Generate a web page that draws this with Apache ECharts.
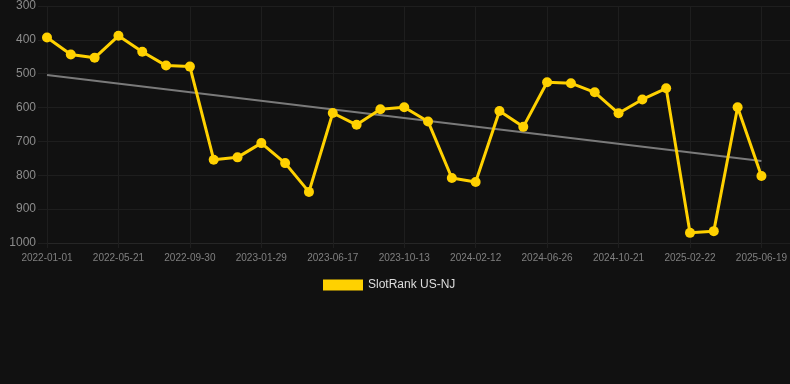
<!DOCTYPE html>
<html>
<head>
<meta charset="utf-8">
<style>
  html, body { margin: 0; padding: 0; background: #111111; }
  #chart { width: 790px; height: 384px; }
</style>
<script src="https://cdn.jsdelivr.net/npm/echarts@6/dist/echarts.min.js"></script>
</head>
<body>
<div id="chart"></div>
<script>
const categories = [
  '2022-01-01','2022-02-16','2022-04-03','2022-05-21','2022-07-04','2022-08-17',
  '2022-09-30','2022-11-09','2022-12-19','2023-01-29','2023-03-16','2023-05-01',
  '2023-06-17','2023-07-26','2023-09-03','2023-10-13','2023-11-22','2024-01-02',
  '2024-02-12','2024-03-27','2024-05-11','2024-06-26','2024-08-04','2024-09-12',
  '2024-10-21','2024-12-01','2025-01-11','2025-02-22','2025-04-01','2025-05-10',
  '2025-06-19'
];
const rankValues = [
  393, 443, 453, 388, 435, 476, 479, 754, 747, 705, 764, 849,
  616, 651, 605, 599, 641, 808, 820, 610, 657, 525, 528, 555,
  617, 576, 543, 970, 965, 599, 802
];
const trendStart = 504;
const trendEnd = 758;
const yTicks = [300, 400, 500, 600, 700, 800, 900, 1000];

const chart = echarts.init(document.getElementById('chart'));
const gridColor = '#1e1e1e';
chart.setOption({
  backgroundColor: '#111111',
  animation: false,
  grid: [
    { left: 38, right: 0, top: 6, bottom: 141 },
    { left: 47, right: 28, top: 6, bottom: 141 }
  ],
  legend: {
    data: ['SlotRank US-NJ'],
    top: 274,
    left: 318,
    itemWidth: 40,
    itemHeight: 11,
    icon: 'rect',
    textStyle: { color: '#dddddd', fontSize: 12, fontFamily: 'Liberation Sans, Arial, sans-serif' }
  },
  xAxis: [
    { type: 'value', gridIndex: 0, min: 0, max: 1, show: false },
    {
      type: 'category', gridIndex: 1, data: categories, boundaryGap: false,
      axisLine: { lineStyle: { color: '#262626' } },
      axisTick: { show: true, interval: 2, length: 5, lineStyle: { color: gridColor } },
      axisLabel: { interval: 2, color: '#808080', fontSize: 10, margin: 10,
        fontFamily: 'Liberation Sans, Arial, sans-serif' },
      splitLine: { show: true, interval: 2, lineStyle: { color: gridColor } }
    }
  ],
  yAxis: [
    {
      type: 'value', gridIndex: 0, inverse: true, min: yTicks[0], max: yTicks[yTicks.length - 1], interval: 100,
      axisLine: { show: false }, axisTick: { show: false },
      axisLabel: { color: '#8c8c8c', fontSize: 12, margin: 2,
        formatter: function (v) { return String(v); },
        fontFamily: 'Liberation Sans, Arial, sans-serif' },
      splitLine: { show: true, lineStyle: { color: gridColor } }
    },
    {
      type: 'value', gridIndex: 1, inverse: true, min: yTicks[0], max: yTicks[yTicks.length - 1], interval: 100,
      show: false, splitLine: { show: false }
    }
  ],
  series: [
    {
      name: 'Trend', type: 'line', xAxisIndex: 1, yAxisIndex: 1,
      data: [[0, trendStart], [categories.length - 1, trendEnd]],
      symbol: 'none', silent: true,
      lineStyle: { color: '#7a7a7a', width: 2 }, z: 1
    },
    {
      name: 'SlotRank US-NJ', type: 'line', xAxisIndex: 1, yAxisIndex: 1,
      data: rankValues,
      symbol: 'circle', symbolSize: 10,
      itemStyle: { color: '#FFD100' },
      lineStyle: { color: '#FFD100', width: 3 }, z: 3
    }
  ]
});
</script>
</body>
</html>
